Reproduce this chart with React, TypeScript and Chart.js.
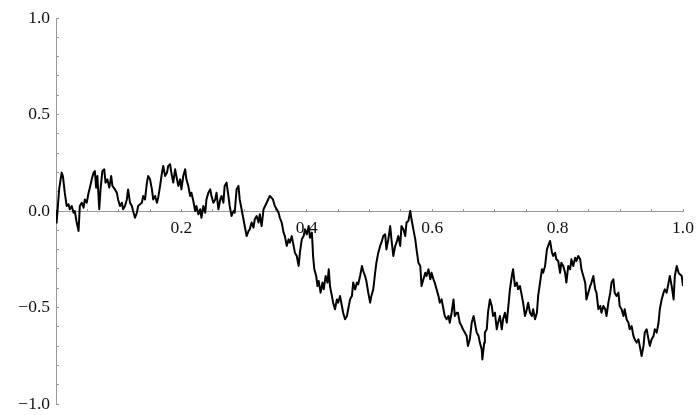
import React, { useEffect, useRef } from "react";
import { Chart, registerables } from "chart.js";

Chart.register(...registerables);

// Sample path of a random walk on [0, 1], as (t, W(t)) pairs, in three stretches.
const walkEarly: [number, number][] = [
  [0, 0], [0.001, -0.06], [0.005, 0.112], [0.009, 0.199], [0.011, 0.181], [0.014, 0.095],
  [0.017, 0.026], [0.02, 0.035], [0.022, 0.009], [0.025, 0.026], [0.028, -0.009], [0.03, 0],
  [0.033, -0.06], [0.036, -0.104], [0.038, 0.026], [0.041, 0.043], [0.044, 0.017], [0.046, 0.06],
  [0.049, 0.043], [0.052, 0.095], [0.054, 0.121], [0.057, 0.164], [0.06, 0.199], [0.062, 0.207],
  [0.064, 0.121], [0.066, 0.181], [0.069, 0.009], [0.071, 0.112], [0.074, 0.207], [0.077, 0.216],
  [0.079, 0.147], [0.082, 0.164], [0.085, 0.121], [0.088, 0.181], [0.09, 0.13], [0.094, 0.112],
  [0.097, 0.095], [0.099, 0.06], [0.102, 0.026], [0.105, 0.043], [0.107, 0.009], [0.11, 0.026],
  [0.113, 0.06], [0.115, 0.112], [0.118, 0.043], [0.121, 0.026], [0.123, 0], [0.126, -0.035],
  [0.129, -0.009], [0.131, 0.026], [0.134, 0.035], [0.137, 0.043], [0.139, 0.078], [0.142, 0.06],
  [0.145, 0.147], [0.147, 0.181], [0.15, 0.164], [0.153, 0.112], [0.155, 0.06], [0.158, 0.078],
  [0.161, 0.043], [0.163, 0.069], [0.166, 0.13], [0.169, 0.199], [0.171, 0.233], [0.174, 0.181],
  [0.177, 0.199], [0.179, 0.233], [0.182, 0.242], [0.184, 0.199], [0.187, 0.147], [0.19, 0.216],
  [0.192, 0.181], [0.195, 0.13], [0.198, 0.164], [0.2, 0.112], [0.203, 0.181], [0.206, 0.216],
  [0.208, 0.164], [0.211, 0.13], [0.214, 0.078], [0.216, 0.095], [0.219, 0.052], [0.222, 0],
  [0.224, 0.026], [0.227, -0.017], [0.23, 0.009], [0.232, -0.035], [0.235, 0.026], [0.238, -0.009],
  [0.24, 0.06], [0.243, 0.095], [0.246, 0.112], [0.248, 0.078], [0.251, 0.043], [0.254, 0.06],
  [0.256, 0.095], [0.259, 0.009], [0.262, 0.06], [0.264, 0.078], [0.267, 0.043], [0.269, 0.13],
  [0.272, 0.147], [0.275, 0.078], [0.277, 0.026], [0.28, -0.026], [0.283, 0], [0.285, -0.009],
  [0.288, 0.112], [0.291, 0.13], [0.293, 0.06], [0.296, 0.009], [0.299, -0.043], [0.301, -0.078],
  [0.304, -0.13], [0.307, -0.104], [0.309, -0.095], [0.312, -0.06], [0.315, -0.086], [0.317, -0.043],
  [0.32, -0.026], [0.323, -0.06], [0.325, -0.017], [0.328, -0.078],
];

const walkMiddle: [number, number][] = [
  [0.331, 0.009], [0.336, 0.043], [0.341, 0.078], [0.346, 0.06], [0.349, 0.026], [0.352, 0.009],
  [0.355, -0.009], [0.357, -0.035], [0.36, -0.06], [0.363, -0.112], [0.365, -0.13], [0.368, -0.181],
  [0.371, -0.147], [0.373, -0.164], [0.376, -0.13], [0.379, -0.181], [0.381, -0.216], [0.384, -0.233],
  [0.387, -0.285], [0.389, -0.216], [0.392, -0.147], [0.395, -0.13], [0.397, -0.095], [0.4, -0.121],
  [0.403, -0.078], [0.405, -0.138], [0.408, -0.112], [0.409, -0.164], [0.41, -0.233], [0.412, -0.302],
  [0.415, -0.337], [0.417, -0.389], [0.419, -0.363], [0.422, -0.423], [0.425, -0.371], [0.427, -0.406],
  [0.43, -0.337], [0.433, -0.371], [0.435, -0.302], [0.437, -0.389], [0.44, -0.44], [0.442, -0.475],
  [0.445, -0.509], [0.448, -0.458], [0.45, -0.475], [0.453, -0.44], [0.456, -0.492], [0.458, -0.527],
  [0.461, -0.561], [0.464, -0.544], [0.466, -0.509], [0.469, -0.458], [0.472, -0.44], [0.474, -0.371],
  [0.477, -0.406], [0.48, -0.371], [0.482, -0.38], [0.485, -0.337], [0.488, -0.285], [0.49, -0.311],
  [0.493, -0.337], [0.495, -0.363], [0.498, -0.423], [0.501, -0.475], [0.503, -0.44], [0.506, -0.406],
  [0.509, -0.32], [0.511, -0.268], [0.514, -0.216], [0.517, -0.181], [0.519, -0.164], [0.522, -0.13],
  [0.525, -0.121], [0.527, -0.199], [0.53, -0.147], [0.533, -0.078], [0.535, -0.147], [0.538, -0.233],
  [0.541, -0.181], [0.543, -0.164], [0.546, -0.13], [0.549, -0.181], [0.551, -0.078], [0.554, -0.095],
  [0.557, -0.13], [0.559, -0.06], [0.562, -0.052], [0.565, 0], [0.567, -0.043], [0.57, -0.095],
  [0.573, -0.147], [0.575, -0.199], [0.578, -0.268], [0.581, -0.285], [0.583, -0.389], [0.586, -0.354],
  [0.589, -0.32], [0.591, -0.337], [0.594, -0.302], [0.597, -0.354], [0.599, -0.32], [0.602, -0.354],
  [0.604, -0.371], [0.607, -0.406], [0.61, -0.44], [0.612, -0.475], [0.615, -0.458], [0.618, -0.509],
  [0.62, -0.544], [0.623, -0.561], [0.626, -0.544], [0.628, -0.579], [0.631, -0.527], [0.634, -0.458],
  [0.636, -0.544], [0.639, -0.527], [0.641, -0.527], [0.644, -0.579], [0.647, -0.596], [0.649, -0.613],
  [0.652, -0.63], [0.655, -0.648], [0.657, -0.699], [0.66, -0.665],
];

const walkLate: [number, number][] = [
  [0.663, -0.579], [0.666, -0.544], [0.668, -0.579], [0.671, -0.63], [0.674, -0.648], [0.676, -0.682],
  [0.679, -0.717], [0.68, -0.769], [0.683, -0.682], [0.684, -0.63], [0.687, -0.613], [0.689, -0.527],
  [0.692, -0.458], [0.695, -0.492], [0.697, -0.544], [0.7, -0.527], [0.703, -0.613], [0.705, -0.579],
  [0.708, -0.544], [0.711, -0.613], [0.713, -0.561], [0.716, -0.527], [0.719, -0.579], [0.721, -0.509],
  [0.724, -0.406], [0.727, -0.337], [0.729, -0.302], [0.732, -0.389], [0.735, -0.371], [0.737, -0.406],
  [0.74, -0.389], [0.743, -0.44], [0.745, -0.475], [0.748, -0.544], [0.751, -0.509], [0.753, -0.475],
  [0.756, -0.527], [0.759, -0.544], [0.761, -0.509], [0.764, -0.561], [0.767, -0.527], [0.769, -0.44],
  [0.772, -0.371], [0.775, -0.302], [0.777, -0.32], [0.78, -0.285], [0.783, -0.199], [0.785, -0.181],
  [0.788, -0.155], [0.791, -0.216], [0.793, -0.233], [0.796, -0.216], [0.798, -0.25], [0.801, -0.259],
  [0.804, -0.32], [0.806, -0.268], [0.809, -0.285], [0.812, -0.32], [0.814, -0.371], [0.817, -0.285],
  [0.82, -0.302], [0.822, -0.25], [0.825, -0.285], [0.828, -0.242], [0.83, -0.259], [0.833, -0.233],
  [0.836, -0.25], [0.838, -0.302], [0.841, -0.337], [0.844, -0.371], [0.846, -0.458], [0.849, -0.423],
  [0.852, -0.389], [0.854, -0.371], [0.857, -0.337], [0.86, -0.406], [0.862, -0.423], [0.865, -0.509],
  [0.868, -0.492], [0.87, -0.527], [0.873, -0.492], [0.876, -0.509], [0.878, -0.544], [0.881, -0.475],
  [0.884, -0.423], [0.886, -0.371], [0.889, -0.354], [0.891, -0.423], [0.894, -0.44], [0.897, -0.423],
  [0.899, -0.492], [0.902, -0.509], [0.905, -0.544], [0.907, -0.509], [0.91, -0.561], [0.913, -0.579],
  [0.915, -0.613], [0.918, -0.596], [0.921, -0.648], [0.923, -0.665], [0.926, -0.682], [0.929, -0.665],
  [0.931, -0.699], [0.934, -0.751], [0.937, -0.699], [0.939, -0.63], [0.942, -0.613], [0.945, -0.665],
  [0.947, -0.699], [0.95, -0.665], [0.953, -0.648], [0.955, -0.613], [0.958, -0.63], [0.961, -0.579],
  [0.963, -0.509], [0.966, -0.458], [0.969, -0.423], [0.971, -0.406], [0.974, -0.423], [0.977, -0.371],
  [0.979, -0.337], [0.982, -0.389], [0.985, -0.458], [0.987, -0.337], [0.99, -0.285], [0.993, -0.32],
  [0.995, -0.328], [0.998, -0.337], [1.0, -0.389],
];

// Axis ranges and tick spacing
const xRange = [0, 1];
const yRange = [-1, 1];
const xMinorStep = 0.05;
const yMinorStep = 0.1;

const labelFont = { family: "Liberation Serif, Times New Roman, Times, serif", size: 17.5 };
const axisGrey = "#9a9a9a";

export default function App() {
  const canvasRef = useRef<HTMLCanvasElement | null>(null);

  useEffect(() => {
    const canvas = canvasRef.current;
    if (!canvas) return;
    const points = [...walkEarly, ...walkMiddle, ...walkLate].map(([x, y]) => ({ x, y }));

    const chart = new Chart(canvas, {
      type: "line",
      data: {
        datasets: [
          {
            data: points,
            borderColor: "#000",
            borderWidth: 2,
            borderJoinStyle: "round",
            pointRadius: 0,
            tension: 0,
            fill: false,
          },
        ],
      },
      options: {
        responsive: false,
        animation: false,
        layout: { padding: { left: 0, top: 18, right: 13, bottom: 11 } },
        plugins: { legend: { display: false }, tooltip: { enabled: false } },
        scales: {
          y: {
            type: "linear",
            position: "left",
            min: yRange[0],
            max: yRange[1],
            afterFit: (s: any) => {
              s.width = 56;
              s.paddingTop = 0;
              s.paddingBottom = 0;
            },
            border: { display: true, color: axisGrey, width: 1 },
            grid: {
              drawOnChartArea: false,
              drawTicks: true,
              tickLength: -3,
              tickColor: axisGrey,
            },
            ticks: {
              stepSize: yMinorStep,
              autoSkip: false,
              padding: 9,
              color: "#111",
              font: labelFont,
              callback: (v: any) => {
                const n = Math.round(Number(v) * 10);
                if (n % 5 !== 0) return "";
                return (n / 10).toFixed(1).replace("-", "\u2212");
              },
            },
          },
          x: {
            type: "linear",
            position: { y: 0 } as any,
            min: xRange[0],
            max: xRange[1],
            afterFit: (s: any) => {
              s.height = 0;
              s.paddingLeft = 0;
              s.paddingRight = 0;
            },
            border: { display: true, color: axisGrey, width: 1 },
            grid: {
              drawOnChartArea: false,
              drawTicks: true,
              tickLength: -3,
              tickColor: axisGrey,
            },
            ticks: {
              stepSize: xMinorStep,
              autoSkip: false,
              maxRotation: 0,
              minRotation: 0,
              padding: 10,
              color: "#111",
              font: labelFont,
              callback: (v: any) => {
                const n = Math.round(Number(v) * 100);
                if (n === 0 || n % 20 !== 0) return "";
                return (n / 100).toFixed(1);
              },
            },
          },
        },
      },
    });

    return () => chart.destroy();
  }, []);

  return (
    <div style={{ position: "fixed", left: 0, top: 0, width: 696, height: 415, background: "#fff" }}>
      <canvas ref={canvasRef} width={696} height={415} style={{ display: "block" }} />
    </div>
  );
}
